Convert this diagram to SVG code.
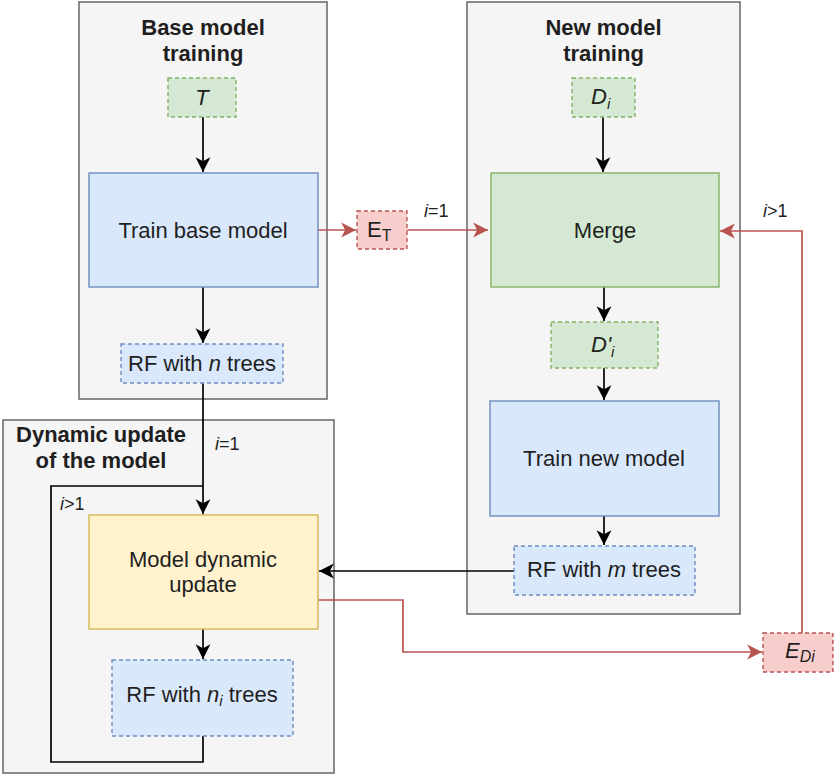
<svg xmlns="http://www.w3.org/2000/svg" width="836" height="775" viewBox="0 0 836 775">
  <style>
    text { font-family: "Liberation Sans", Arial, sans-serif; fill: #1f1f1f; }
    .title { font-size: 22px; font-weight: bold; text-anchor: middle; }
    .lbl { font-size: 22px; text-anchor: middle; }
    .edge-lbl { font-size: 18px; }
    .it { font-style: italic; }
    .container { fill: #f5f5f5; stroke: #666666; stroke-width: 1.5; }
    .blue { fill: #dae8fc; stroke: #6c8ebf; stroke-width: 1.4; }
    .green { fill: #d5e8d4; stroke: #82b366; stroke-width: 1.4; }
    .yellow { fill: #fff2cc; stroke: #d6b656; stroke-width: 1.4; }
    .red { fill: #f8cecc; stroke: #b85450; stroke-width: 1.4; }
    .dash { stroke-dasharray: 4 3; }
    .wire { fill: none; stroke: #000000; stroke-width: 1.7; }
    .wire-red { fill: none; stroke: #b85450; stroke-width: 1.7; }
  </style>
  <defs>
    <marker id="arrow" markerUnits="userSpaceOnUse" markerWidth="16" markerHeight="16" viewBox="0 0 14 14" refX="13" refY="7" orient="auto">
      <path d="M0,0.5 L13,7 L0,13.5 L3.5,7 Z" fill="#000000"/>
    </marker>
    <marker id="arrow-red" markerUnits="userSpaceOnUse" markerWidth="16" markerHeight="16" viewBox="0 0 14 14" refX="13" refY="7" orient="auto">
      <path d="M0,0.5 L13,7 L0,13.5 L3.5,7 Z" fill="#b85450"/>
    </marker>
  </defs>

  <!-- containers -->
  <g id="base-training">
    <rect class="container" x="79" y="2" width="248" height="397"/>
    <text class="title" x="203" y="35">Base model</text>
    <text class="title" x="203" y="61">training</text>
  </g>
  <g id="new-training">
    <rect class="container" x="467" y="2" width="273" height="612"/>
    <text class="title" x="603.5" y="35">New model</text>
    <text class="title" x="603.5" y="61">training</text>
  </g>
  <g id="dynamic-update">
    <rect class="container" x="3" y="420" width="331" height="353"/>
    <text class="title" x="101" y="442">Dynamic update</text>
    <text class="title" x="101" y="468">of the model</text>
  </g>

  <!-- connectors -->
  <g id="connectors">
    <path class="wire" d="M203,117 V172" marker-end="url(#arrow)"/>
    <path class="wire" d="M203,287 V343" marker-end="url(#arrow)"/>
    <path class="wire" d="M203,383 V514" marker-end="url(#arrow)"/>
    <path class="wire" d="M203,736 V762 H51 V486 H203"/>
    <path class="wire" d="M203,629 V659" marker-end="url(#arrow)"/>
    <path class="wire" d="M603,117 V172" marker-end="url(#arrow)"/>
    <path class="wire" d="M604,287 V321" marker-end="url(#arrow)"/>
    <path class="wire" d="M604,368 V400" marker-end="url(#arrow)"/>
    <path class="wire" d="M604,516 V545" marker-end="url(#arrow)"/>
    <path class="wire" d="M514,571 H319" marker-end="url(#arrow)"/>
    <path class="wire-red" d="M318,230 H356" marker-end="url(#arrow-red)"/>
    <path class="wire-red" d="M407,230 H488" marker-end="url(#arrow-red)"/>
    <path class="wire-red" d="M318,600 H403 V652 H762" marker-end="url(#arrow-red)"/>
    <path class="wire-red" d="M802,633 V231 H720" marker-end="url(#arrow-red)"/>
    <text class="edge-lbl" x="424" y="217"><tspan class="it">i</tspan>=1</text>
    <text class="edge-lbl" x="763" y="217"><tspan class="it">i</tspan>&gt;1</text>
    <text class="edge-lbl" x="215" y="450"><tspan class="it">i</tspan>=1</text>
    <text class="edge-lbl" x="60" y="510"><tspan class="it">i</tspan>&gt;1</text>
  </g>

  <!-- base model training nodes -->
  <g id="T">
    <rect class="green dash" x="168" y="78" width="68" height="39"/>
    <text class="lbl it" x="202" y="105">T</text>
  </g>
  <g id="train-base">
    <rect class="blue" x="89" y="173" width="229" height="114"/>
    <text class="lbl" x="203" y="238">Train base model</text>
  </g>
  <g id="rf-n">
    <rect class="blue dash" x="121" y="344" width="162" height="39"/>
    <text class="lbl" x="202" y="371">RF with <tspan class="it">n</tspan> trees</text>
  </g>

  <!-- error node between the two trainings -->
  <g id="E-T">
    <rect class="red dash" x="357" y="211" width="50" height="38"/>
    <text x="367" y="237" font-size="22">E<tspan font-size="16" dy="4">T</tspan></text>
  </g>

  <!-- new model training nodes -->
  <g id="D-i">
    <rect class="green dash" x="572" y="78" width="63" height="39"/>
    <text x="591" y="104" font-size="22" class="it">D<tspan font-size="15" dy="5">i</tspan></text>
  </g>
  <g id="merge">
    <rect class="green" x="491" y="173" width="228" height="114"/>
    <text class="lbl" x="605" y="238">Merge</text>
  </g>
  <g id="D-prime-i">
    <rect class="green dash" x="551" y="322" width="107" height="46"/>
    <text x="591" y="352" font-size="22" class="it">D'<tspan font-size="15" dy="5">i</tspan></text>
  </g>
  <g id="train-new">
    <rect class="blue" x="490" y="401" width="229" height="115"/>
    <text class="lbl" x="604" y="466">Train new model</text>
  </g>
  <g id="rf-m">
    <rect class="blue dash" x="514" y="546" width="181" height="49"/>
    <text class="lbl" x="604" y="577">RF with <tspan class="it">m</tspan> trees</text>
  </g>

  <!-- dynamic update nodes -->
  <g id="model-update">
    <rect class="yellow" x="89" y="515" width="229" height="114"/>
    <text class="lbl" x="203" y="567">Model dynamic</text>
    <text class="lbl" x="203" y="592">update</text>
  </g>
  <g id="rf-ni">
    <rect class="blue dash" x="112" y="660" width="181" height="76"/>
    <text class="lbl" x="202" y="702">RF with <tspan class="it">n<tspan font-size="15" dy="4">i</tspan></tspan><tspan dy="-4"> trees</tspan></text>
  </g>
  <g id="E-Di">
    <rect class="red dash" x="763" y="633" width="70" height="39"/>
    <text x="785" y="658" font-size="22" class="it">E<tspan font-size="16" dy="4">Di</tspan></text>
  </g>
</svg>
